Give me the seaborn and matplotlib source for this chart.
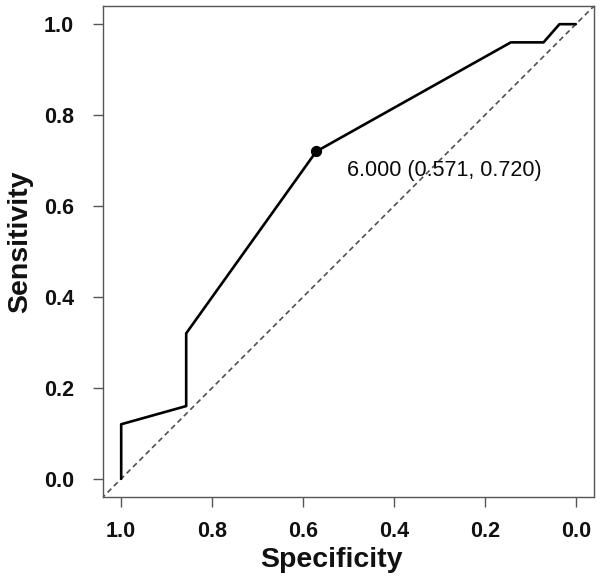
import numpy as np
import pandas as pd
import matplotlib.pyplot as plt
import seaborn as sns

# ROC curve points (specificity, sensitivity)
specificity = [1.0, 1.0, 0.857, 0.857, 0.571, 0.143, 0.071, 0.036, 0.0]
sensitivity = [0.0, 0.12, 0.16, 0.32, 0.72, 0.96, 0.96, 1.0, 1.0]

best_spec = 0.571
best_sens = 0.720
best_thresh = 6.000

ticks = [1.0, 0.8, 0.6, 0.4, 0.2, 0.0]

sns.set_style("white")
plt.rcParams['font.family'] = ['Liberation Sans', 'DejaVu Sans']

df = pd.DataFrame({"Specificity": specificity, "Sensitivity": sensitivity})

fig = plt.figure(figsize=(6.02, 5.86), dpi=100)
ax = fig.add_axes([103 / 602, 89 / 586, 491 / 602, 491 / 586])

# chance diagonal
ax.plot([1.1, -0.1], [-0.1, 1.1], color="#505050", linestyle=(0, (3.2, 2.2)), linewidth=1.2)

sns.lineplot(data=df, x="Specificity", y="Sensitivity", sort=False, estimator=None,
             color="black", linewidth=1.9, ax=ax)

ax.scatter([best_spec], [best_sens], s=50, color="black", zorder=5)
ax.annotate(f"{best_thresh:.3f} ({best_spec:.3f}, {best_sens:.3f})", xy=(best_spec, best_sens),
            xytext=(31, -25), textcoords="offset pixels", fontsize=15.5, color="#0a0a0a",
            ha="left", va="baseline")

ax.set_xlim(1.04, -0.04)
ax.set_ylim(-0.04, 1.04)
ax.set_xticks(ticks)
ax.set_yticks(ticks)
ax.set_xticklabels([f"{t:.1f}" for t in ticks], fontsize=15.5, fontweight="bold")
ax.set_yticklabels([f"{t:.1f}" for t in ticks], fontsize=15.5, fontweight="bold")
ax.tick_params(axis="both", direction="out", length=7, width=1, color="#555555",
               bottom=True, left=True, labelcolor="#111111")
ax.tick_params(axis="x", pad=10)
ax.tick_params(axis="y", pad=14)

ax.set_xlabel("Specificity", fontsize=20.5, fontweight="bold", color="#111111")
ax.set_ylabel("Sensitivity", fontsize=20.5, fontweight="bold", color="#111111")
ax.xaxis.set_label_coords(0.466, -0.102)
ax.yaxis.set_label_coords(-0.143, 0.519)

for s in ax.spines.values():
    s.set_color("#555555")
    s.set_linewidth(1.0)

fig.savefig("out.png", dpi=100)
